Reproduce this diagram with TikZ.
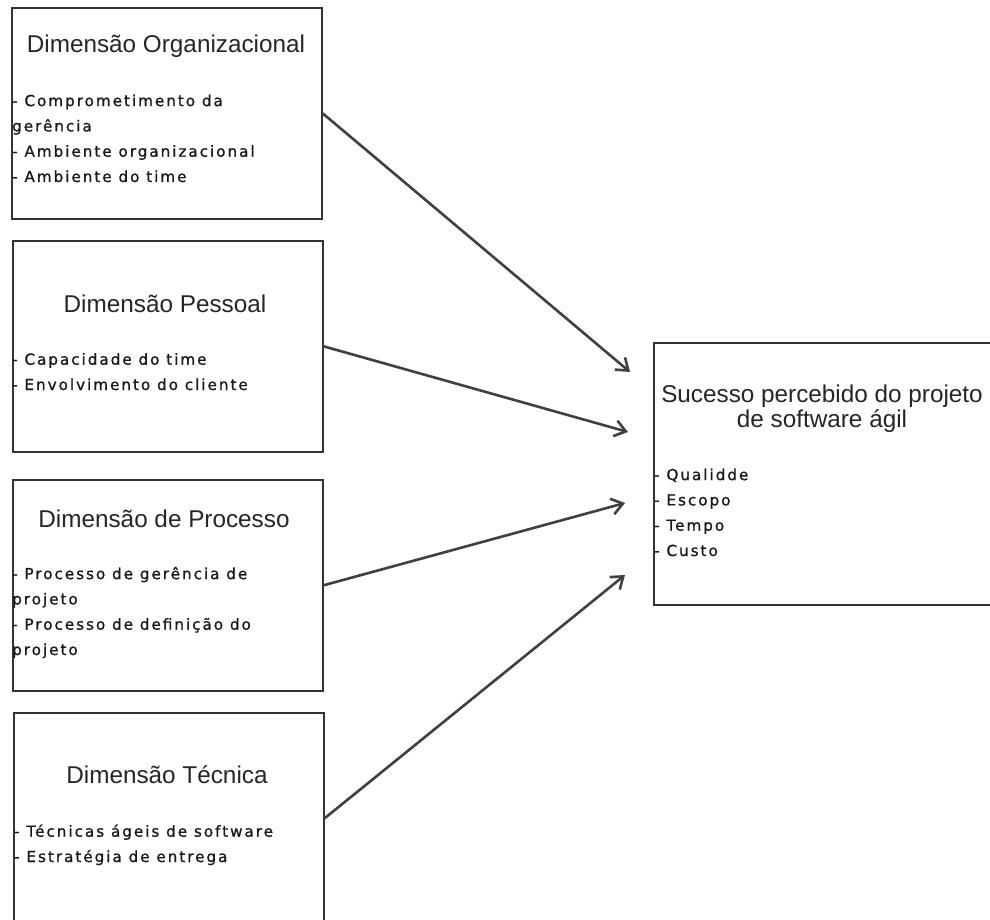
\documentclass[tikz,border=0pt]{standalone}
\usepackage{fontspec}
\setmainfont{Liberation Sans}
\newfontfamily\listfont[LetterSpace=13,FakeBold=1]{DejaVu Sans}
\usetikzlibrary{arrows.meta,calc}
\begin{document}
\begin{tikzpicture}[x=1pt,y=-1pt,
  box/.style={draw=black!80, line width=1.6pt, minimum width=310pt, minimum height=211pt, anchor=north west, inner sep=0pt},
  ttl/.style={font=\fontsize{24.3}{25}\selectfont, text=black!85, anchor=base, inner sep=0pt, align=center},
  lst/.style={font=\listfont\fontsize{15.2}{25.3}\selectfont, text=black!90, anchor=base west, align=left, inner sep=0pt},
  arr/.style={line width=2.6pt, draw=black!75, -{Straight Barb[length=11pt,width=16pt,line width=2.6pt]}}]
\useasboundingbox (0,0) rectangle (990,920);
\fill[white] (0,0) rectangle (990,920);
\clip (0,0) rectangle (990,920);

\node[box] (org) at (11,7) {};
\node[box] (pes) at (12,240) {};
\node[box] (pro) at (12,479) {};
\node[box] (tec) at (13,712) {};
\node[box, minimum width=360pt, minimum height=262pt] (suc) at (653,342) {};

\node[ttl] (orgT) at (166,53) {Dimensão Organizacional};
\node[lst] (orgL) at (12,182) {- Comprometimento da\\gerência\\- Ambiente organizacional\\- Ambiente do time};

\node[ttl] (pesT) at (165,312) {Dimensão Pessoal};
\node[lst] (pesL) at (12,390) {- Capacidade do time\\- Envolvimento do cliente};

\node[ttl] (proT) at (164,527) {Dimensão de Processo};
\node[lst] (proL) at (12,655) {- Processo de gerência de\\projeto\\- Processo de definição do\\projeto};

\node[ttl] (tecT) at (167,783) {Dimensão Técnica};
\node[lst] (tecL) at (14,862) {- Técnicas ágeis de software\\- Estratégia de entrega};

\node[ttl] (sucT) at (822,427) {Sucesso percebido do projeto\\de software ágil};
\node[lst] (sucL) at (654,556) {- Qualidde\\- Escopo\\- Tempo\\- Custo};

\coordinate (t1) at (630,372);
\coordinate (t2) at (628,432);
\coordinate (t3) at (625,503);
\coordinate (t4) at (625,575);

\draw[arr] (org.east) -- (t1);
\draw[arr] (pes.east) -- (t2);
\draw[arr] (pro.east) -- (t3);
\draw[arr] (tec.east) -- (t4);
\end{tikzpicture}
\end{document}
